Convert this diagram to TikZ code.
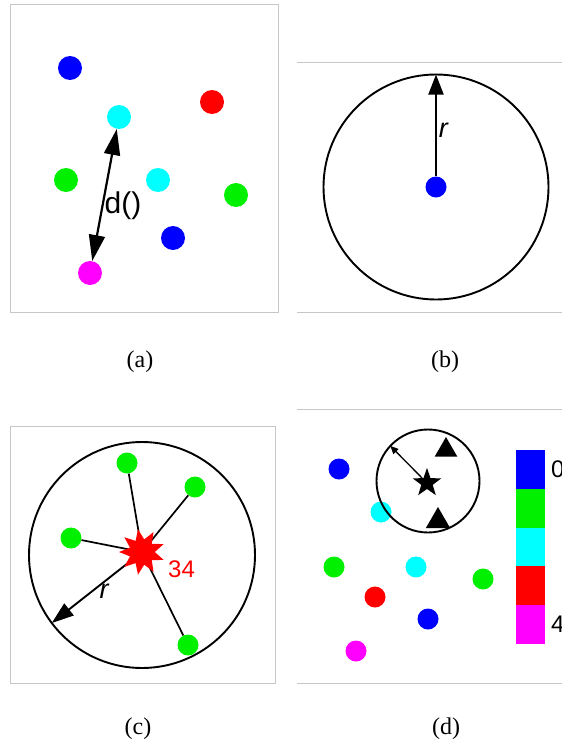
\documentclass[tikz,border=0pt]{standalone}
\usepackage{fontspec}
\setmainfont{Liberation Serif}
\newfontfamily\labfont{Liberation Sans}
\usetikzlibrary{arrows.meta,shapes.geometric,positioning}
\definecolor{ptblue}{RGB}{0,0,255}
\definecolor{ptgreen}{RGB}{0,240,0}
\definecolor{ptcyan}{RGB}{0,255,255}
\definecolor{ptred}{RGB}{255,0,0}
\definecolor{ptpink}{RGB}{255,0,255}

\begin{document}
\begin{tikzpicture}[x=1pt, y=-1pt,
    pt/.style={circle, inner sep=0pt, minimum size=21pt},
    bigpt/.style={circle, inner sep=0pt, minimum size=24pt},
    frm/.style={draw=black!22, line width=0.8pt},
    ring/.style={draw, circle, line width=1.9pt, inner sep=0pt, outer sep=0pt},
    arr/.style={-{Triangle[length=20pt, width=15pt]}, line width=1.9pt},
    lnk/.style={line width=1.7pt},
    tri/.style={regular polygon, regular polygon sides=3, fill=black, inner sep=0pt},
    lbl/.style={font=\labfont\fontsize{24}{24}\selectfont, inner sep=2pt},
    captxt/.style={font=\fontsize{24}{26}\selectfont},
    cbar/.style={minimum width=29pt, minimum height=38.8pt, inner sep=0pt, outer sep=0pt}
]
\useasboundingbox (0,0) rectangle (562,744);

\draw[frm] (10,4) rectangle (278,312);
\node[bigpt, fill=ptblue] (a1) at (70,68) {};
\node[bigpt, fill=ptcyan] (a2) at (119,117) {};
\node[bigpt, fill=ptred] (a3) at (212,102) {};
\node[bigpt, fill=ptgreen] (a4) at (66,180) {};
\node[bigpt, fill=ptcyan] (a5) at (158,180) {};
\node[bigpt, fill=ptgreen] (a6) at (236,195) {};
\node[bigpt, fill=ptblue] (a7) at (173,238) {};
\node[bigpt, fill=ptpink] (a8) at (90,273) {};
\draw[{Triangle[length=26pt, width=16pt]}-{Triangle[length=26pt, width=16pt]}, line width=2.2pt] (a2) -- node[lbl, right, pos=.58, font=\labfont\fontsize{30}{30}\selectfont, inner sep=1pt] {d()} (a8);
\node[captxt] (capa) at (140,362) {(a)};

\draw[frm] (297,62) -- (562,62);
\draw[frm] (297,312) -- (562,312);
\node[ring, minimum size=225pt] (rb) at (436,187) {};
\node[pt, fill=ptblue] (b1) at (436,187) {};
\draw[arr] (b1) -- node[lbl, right, pos=.45, font=\labfont\itshape\fontsize{27}{27}\selectfont] {r} (rb.north);
\node[captxt] (capb) at (445,362) {(b)};

\draw[frm] (10,426) rectangle (275,683);
\node[ring, minimum size=226pt] (rc) at (142,555) {};
\coordinate (hub) at (142,552);
\node[pt, fill=ptgreen] (c1) at (127,463) {};
\node[pt, fill=ptgreen] (c2) at (195,487) {};
\node[pt, fill=ptgreen] (c3) at (71,538) {};
\node[pt, fill=ptgreen] (c4) at (188,645) {};
\foreach \g in {c1,c2,c3,c4}
    \draw[lnk] (\g) -- (hub);
\draw[arr, -{Triangle[length=22pt, width=15pt]}] (hub) -- node[lbl, below, pos=.42, inner sep=1pt, font=\labfont\itshape\fontsize{27}{27}\selectfont] {r} (rc.217);
\node[star, star points=9, star point ratio=1.8, minimum size=46pt, inner sep=0pt, fill=ptred, rotate=10] (hit) at (hub) {};
\node[lbl, ptred, anchor=west, inner sep=1pt] (cnt) at (167,569) {34};
\node[captxt] (capc) at (138,729) {(c)};

\draw[frm] (297,409) -- (562,409);
\draw[frm] (297,683) -- (562,683);
\node[pt, fill=ptblue] (d1) at (339,469) {};
\node[pt, fill=ptcyan] (d2) at (381,512) {};
\node[pt, fill=ptgreen] (d3) at (334,567) {};
\node[pt, fill=ptcyan] (d4) at (416,567) {};
\node[pt, fill=ptgreen] (d5) at (483,579) {};
\node[pt, fill=ptred] (d6) at (375,597) {};
\node[pt, fill=ptblue] (d7) at (428,619) {};
\node[pt, fill=ptpink] (d8) at (356,651) {};
\node[ring, minimum size=103pt] (rd) at (428,481) {};
\node[star, star points=5, star point ratio=2.5, minimum size=30pt, inner sep=0pt, fill=black] (tgt) at (427,483) {};
\node[tri, minimum size=26pt] (tri1) at (446,450) {};
\node[tri, minimum size=28pt] (tri2) at (438,521) {};
\draw[-{Triangle[length=8pt, width=7pt]}, line width=1.3pt] (tgt) -- (rd.137);
\node[cbar, fill=ptblue] (cb0) at (530.5,469.4) {};
\node[cbar, fill=ptgreen, below=0pt of cb0] (cb1) {};
\node[cbar, fill=ptcyan, below=0pt of cb1] (cb2) {};
\node[cbar, fill=ptred, below=0pt of cb2] (cb3) {};
\node[cbar, fill=ptpink, below=0pt of cb3] (cb4) {};
\node[lbl, anchor=west, xshift=4pt] (lo) at (cb0.east) {0};
\node[lbl, anchor=west, xshift=4pt] (hi) at (cb4.east) {4};
\node[captxt] (capd) at (446,729) {(d)};
\end{tikzpicture}
\end{document}
